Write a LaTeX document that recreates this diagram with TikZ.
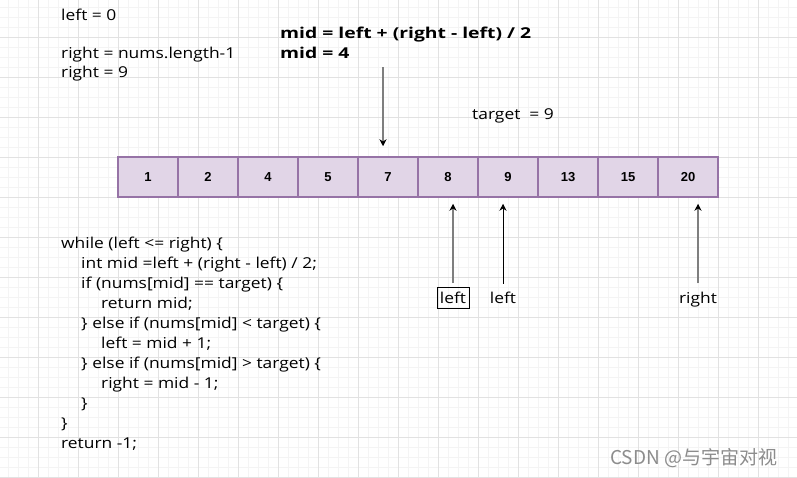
\documentclass[tikz,border=0pt]{standalone}
\usepackage{fontspec}
\setmainfont{Open Sans}[FakeStretch=1.16,BoldFeatures={FakeStretch=1.29}]
\newfontfamily\numfont{Liberation Sans}
\newfontfamily\cjkfont{Noto Sans CJK SC}
\usetikzlibrary{arrows.meta,positioning}
\definecolor{cellfill}{HTML}{E1D5E7}
\definecolor{celldraw}{HTML}{9673A6}
\definecolor{gridmajor}{HTML}{E2E2E2}
\definecolor{gridminor}{HTML}{F4F4F4}
\definecolor{shaft}{HTML}{7F7F7F}

\begin{document}
\begin{tikzpicture}[
  x=1pt,y=-1pt,
  cell/.style={draw=celldraw,fill=cellfill,line width=1.5pt,inner sep=0pt,
              minimum width=60pt,minimum height=40pt,
              font=\numfont\bfseries\fontsize{13}{15}\selectfont},
  txt/.style={anchor=base west,inner sep=0pt,font=\fontsize{15}{20}\selectfont},
  boldtxt/.style={txt,font=\bfseries\fontsize{15}{20}\selectfont},
  code/.style={anchor=north west,align=left,inner sep=0pt,
              font=\fontsize{15}{20}\selectfont},
  ptr/.style={inner sep=0pt,font=\fontsize{15}{20}\selectfont},
  grayarr/.style={draw=shaft,line width=2pt,-{Stealth[length=7pt,width=7pt,color=black]}},
  thinarr/.style={draw=black,line width=1pt,-{Stealth[length=7pt,width=7pt]}}
]
% canvas and grid
\fill[white] (0,0) rectangle (797,477);
\useasboundingbox (0,0) rectangle (797,477);
\foreach \x in {8,18,...,798} \draw[gridminor,line width=0.6pt] (\x,0) -- (\x,477);
\foreach \y in {7,17,...,477} \draw[gridminor,line width=0.6pt] (0,\y) -- (797,\y);
\foreach \x in {38,78,...,798} \draw[gridmajor,line width=0.8pt] (\x,0) -- (\x,477);
\foreach \y in {37,77,...,477} \draw[gridmajor,line width=0.8pt] (0,\y) -- (797,\y);

% notes at the top
\node[txt] (leftinit) at (61,20) {left = 0};
\node[txt] (rightlen) at (61,58) {right = nums.length-1};
\node[txt] (rightinit) at (61,77) {right = 9};
\node[boldtxt] (midexpr) at (280,38) {mid = left + (right - left) / 2};
\node[boldtxt] (midval) at (280,58) {mid = 4};
\node[txt] (target) at (472,119) {target\ \ = 9};

% the array
\foreach \v [count=\i] in {1,2,4,5,7,8,9,13,15,20}
  \node[cell] (c\i) at (88+60*\i,177) {\v};

% pointers
\coordinate (midtop) at (383,67);
\node[ptr,draw,line width=1pt,minimum width=32pt,minimum height=21pt] (leftold) at (453,298) {left};
\node[ptr] (leftnew) at (503,298) {left};
\node[ptr] (rightptr) at (698,300) {right};

\draw[grayarr,shorten >=10pt] (midtop) -- (midtop |- c5.north);
\draw[grayarr,shorten <=4pt,shorten >=6pt] (leftold.north) -- (leftold.north |- c6.south);
\draw[thinarr,shorten <=8pt,shorten >=6pt] (leftnew.north) -- (leftnew.north |- c7.south);
\draw[grayarr,shorten <=9pt,shorten >=6pt] (rightptr.north) -- (rightptr.north |- c10.south);

% the loop
\node[code] (loop) at (61,237) {while (left <= right) \{\\
\hspace*{20pt}int mid =left + (right - left) / 2;\\
\hspace*{20pt}if (nums[mid] == target) \{\\
\hspace*{40pt}return mid;\\
\hspace*{20pt}\} else if (nums[mid] < target) \{\\
\hspace*{40pt}left = mid + 1;\\
\hspace*{20pt}\} else if (nums[mid] > target) \{\\
\hspace*{40pt}right = mid - 1;\\
\hspace*{20pt}\}\\
\}\\
return -1;};

\node[anchor=west,inner sep=0pt,text=black!45,font=\cjkfont\fontsize{19}{21}\selectfont] (mark) at (610,458) {CSDN @与宇宙对视};
\end{tikzpicture}
\end{document}
